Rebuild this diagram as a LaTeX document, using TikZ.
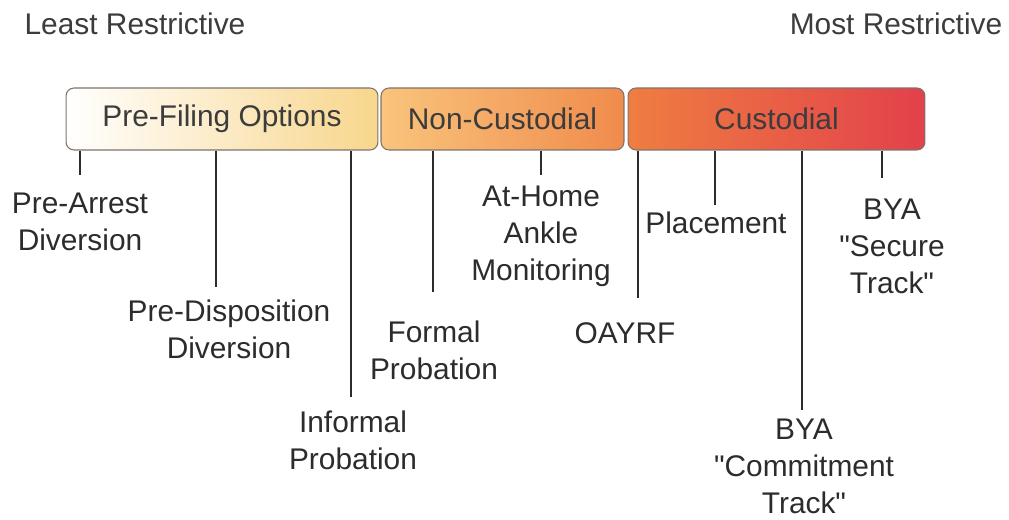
\documentclass[tikz,border=0pt]{standalone}
\usepackage{fontspec}
\setmainfont{Liberation Sans}[Ligatures=TeXOff]
\usetikzlibrary{positioning}

\definecolor{inkgray}{HTML}{2C2C2C}
\definecolor{softgray}{HTML}{3C3C3C}
\definecolor{edgegray}{HTML}{7E736C}
\definecolor{prefilR}{HTML}{F8D68C}
\definecolor{noncustL}{HTML}{F9C47C}
\definecolor{noncustR}{HTML}{F08B4C}
\definecolor{custL}{HTML}{EF7D41}
\definecolor{custR}{HTML}{E2414B}

\newcommand\lblfont{\fontsize{17}{21}\selectfont}

\tikzset{
  bar/.style={draw=edgegray, line width=0.6pt, rounded corners=0.16cm,
    minimum height=1.24cm, inner sep=0pt, text=softgray, font=\lblfont},
  lbl/.style={align=center, text=inkgray, font=\lblfont, inner sep=0pt},
  toplbl/.style={text=softgray, font=\lblfont, inner sep=0pt},
  tick/.style={draw=inkgray, line width=0.9pt},
}

\begin{document}
\begin{tikzpicture}[x=0.02cm,y=-0.02cm]
  \useasboundingbox (0,0) rectangle (1009,520);

  % scale ends
  \node[toplbl] (least) at (135,24) {Least Restrictive};
  \node[toplbl] (most) at (896,24) {Most Restrictive};

  % the bar
  \node[bar, minimum width=6.24cm, left color=white, right color=prefilR] (pf) at (222,119) {Pre-Filing Options};
  \node[bar, minimum width=4.86cm, left color=noncustL, right color=noncustR, right=0.04cm of pf] (nc) {Non-Custodial};
  \node[bar, minimum width=5.94cm, left color=custL, right color=custR, right=0.06cm of nc] (cu) {Custodial};

  % options
  \node[lbl] (prearrest) at (80,222) {Pre-Arrest\\Diversion};
  \node[lbl] (predisp) at (229,329) {Pre-Disposition\\Diversion};
  \node[lbl] (informal) at (353,440) {Informal\\Probation};
  \node[lbl] (formal) at (434,350) {Formal\\Probation};
  \node[lbl] (athome) at (541,236) {At-Home\\Ankle\\Monitoring};
  \node[lbl] (oayrf) at (625,333) {OAYRF};
  \node[lbl] (placement) at (716,223) {Placement};
  \node[lbl] (secure) at (892,246) {BYA\\"Secure\\Track"};
  \node[lbl] (commit) at (804,466) {BYA\\"Commitment\\Track"};

  % tick ends
  \coordinate (t1) at (80,175);
  \coordinate (t2) at (216,287);
  \coordinate (t3) at (351,397);
  \coordinate (t4) at (433,292);
  \coordinate (t5) at (541,175);
  \coordinate (t6) at (638,298);
  \coordinate (t7) at (715,205);
  \coordinate (t8) at (802,410);
  \coordinate (t9) at (882,178);

  \foreach \t in {t1,t2,t3}
    \draw[tick] (pf.south -| \t) -- (\t);
  \foreach \t in {t4,t5}
    \draw[tick] (nc.south -| \t) -- (\t);
  \foreach \t in {t6,t7,t8,t9}
    \draw[tick] (cu.south -| \t) -- (\t);
\end{tikzpicture}
\end{document}
